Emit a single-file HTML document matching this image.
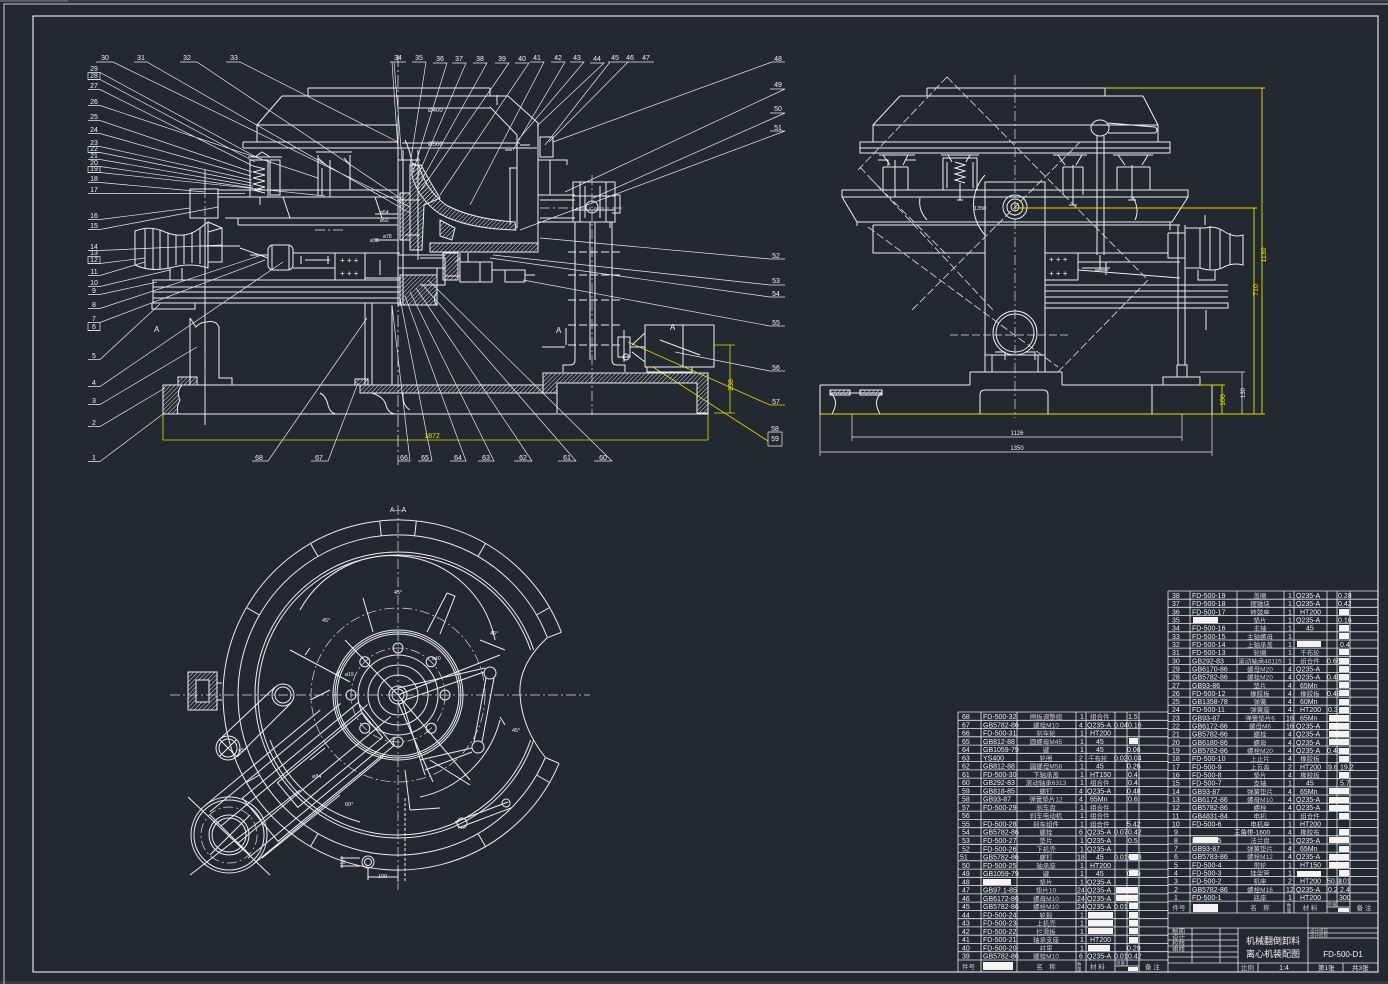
<!DOCTYPE html>
<html><head><meta charset="utf-8">
<style>
html,body{margin:0;padding:0;background:#212830;width:1388px;height:984px;overflow:hidden}
svg{position:absolute;left:0;top:0;display:block}
.t{font-family:"Liberation Sans","Noto Sans CJK SC",sans-serif;fill:#f2f2f2;font-size:7px}
.c{font-family:"Liberation Sans","Noto Sans CJK SC",sans-serif;fill:#cccccc;font-size:6.5px}
.y{font-family:"Liberation Sans",sans-serif;fill:#e8e800;font-size:7px}
</style></head>
<body>
<svg width="1388" height="984" viewBox="0 0 1388 984" xmlns="http://www.w3.org/2000/svg">
<defs>
<pattern id="h" width="3" height="3" patternUnits="userSpaceOnUse" patternTransform="rotate(45)"><line x1="0" y1="0" x2="0" y2="3" stroke="#e0e0e0" stroke-width="1"/></pattern>
</defs>
<!-- sheet frame -->
<rect x="0" y="0" width="1388" height="2" fill="#3b4048"/>
<rect x="0" y="0" width="68" height="2" fill="#5a5f66"/>
<rect x="0" y="981" width="1388" height="3" fill="#353a42"/>
<path d="M4,984 V4 H1388" stroke="#cfd2d6" stroke-width="1" fill="none"/>
<rect x="33" y="16" width="1345" height="956" stroke="#f2f2f2" stroke-width="1.1" fill="none"/>

<!-- ================= FRONT VIEW ================= -->
<g stroke="#eaeaea" stroke-width="0.7" fill="none">
<path d="M88,72.5H100L258,158 M88,79.5H100L255,162 M88,89.5H100L253,166 M88,105.5H100L318,178 M88,120.5H100L252,172 M88,133.5H100L251,176 M88,146.5H100L252,180 M88,152.5H100L252,183 M88,159.5H100L253,186 M88,166.5H100L253,188 M88,172.5H100L325,196 M88,182.5H100L205,192 M88,193.5H245 M88,219.5H100L190,208 M88,229.5H100L218,207 M88,250.5H100L222,245 M88,256.5H100 M88,263.5H100L145,258 M88,275.5H100L145,262 M88,286.5H100L170,270 M88,294.5H100L157,282 M88,308.5H100L262,255 M88,322.5H100L265,260 M88,330.5H100 M88,359.5H100L160,304 M88,386.5H100L283,262 M88,404.5H100L197,347 M88,426.5H100L165,388 M88,461.5H100L163,414"/>
<path d="M88,72.5V79.5H100V72.5 M88,146.5V152.5H100 M88,166.5V172.5H100V166.5 M88,256.5V263.5H100V256.5 M88,322.5V330.5H100V322.5"/>
<path d="M96,62H113L410,207 M134,62H147L410,213 M180,62H197L403,200 M226,62H240L398,142 M390,62H406 M392,62L398,150 M394,62L402,160 M412,62H426L410,165 M433,63H447L413,172 M452,63H466L416,180 M473,63H487L419,185 M495,63H509L421,190 M515,63H529L440,195 M530,62H544L470,205 M551,62H565L513,150 M570,62H584L518,140 M590,63H604L537,126 M608,62H654 M610,62L545,145 M628,62L549,142 M772,62H785 M772,62L553,142 M770,89H785L565,192 M770,113H785L593,198 M770,131H785L520,230"/>
<path d="M785,259H770L540,238 M785,285H770L493,255 M785,297H770L490,258 M785,326H770L523,280 M785,371H770L675,352 M768,432H782V446H768Z"/>
<path d="M252,461H268L367,318 M311,461H328L358,383 M398,461H410L392,305 M418,461H432L400,298 M450,461H466L405,296 M478,461H494L410,292 M514,461H532L416,288 M558,461H576L422,284 M594,461H612L428,280"/>
</g>
<g stroke="#e0e000" stroke-width="0.8" fill="none">
<path d="M785,405H770L628,342 M768,441L653,367"/>
<path d="M163,414V440H708V413 M714,345H735 M714,413H735 M730,345V413"/>
</g>
<g class="y"><text x="432" y="438" text-anchor="middle">1872</text><text transform="translate(733,385) rotate(-90)" text-anchor="middle">238</text></g>

<g class="t" text-anchor="middle">
<text x="94" y="71">29</text><text x="94" y="78">28</text><text x="94" y="88">27</text><text x="94" y="104">26</text><text x="94" y="119">25</text><text x="94" y="132">24</text><text x="94" y="145">23</text><text x="94" y="151">22</text><text x="94" y="158">21</text><text x="94" y="165">20</text><text x="94" y="171">19</text><text x="94" y="181">18</text><text x="94" y="192">17</text><text x="94" y="218">16</text><text x="94" y="228">15</text><text x="94" y="249">14</text><text x="94" y="255">13</text><text x="94" y="262">12</text><text x="94" y="274">11</text><text x="94" y="285">10</text><text x="94" y="293">9</text><text x="94" y="307">8</text><text x="94" y="321">7</text><text x="94" y="329">6</text><text x="94" y="358">5</text><text x="94" y="385">4</text><text x="94" y="403">3</text><text x="94" y="425">2</text><text x="94" y="460">1</text>
<text x="105" y="60">30</text><text x="141" y="60">31</text><text x="187" y="60">32</text><text x="234" y="60">33</text><text x="398" y="60">34</text><text x="419" y="60">35</text><text x="440" y="61">36</text><text x="459" y="61">37</text><text x="480" y="61">38</text><text x="502" y="61">39</text><text x="522" y="61">40</text><text x="537" y="60">41</text><text x="558" y="60">42</text><text x="577" y="60">43</text><text x="597" y="61">44</text><text x="615" y="60">45</text><text x="630" y="60">46</text><text x="646" y="60">47</text>
<text x="778" y="61">48</text><text x="778" y="87">49</text><text x="778" y="111">50</text><text x="778" y="130">51</text><text x="776" y="258">52</text><text x="776" y="283">53</text><text x="776" y="296">54</text><text x="776" y="325">55</text><text x="776" y="370">56</text><text x="776" y="404">57</text><text x="775" y="431">58</text><text x="775" y="441">59</text>
<text x="259" y="460">68</text><text x="319" y="460">67</text><text x="404" y="460">66</text><text x="425" y="460">65</text><text x="458" y="460">64</text><text x="486" y="460">63</text><text x="523" y="460">62</text><text x="567" y="460">61</text><text x="603" y="460">60</text>
</g>

<g stroke="#eeeeee" stroke-width="1" fill="none">
<path d="M412,163 L419,166 Q426,190 446,205 Q472,219 515,222 L516,230 Q468,229 440,214 Q419,200 412,176 Z" fill="url(#h)"/>
<path d="M410,165 H421 Q430,182 440,198 L424,205 L422,250 H410 Z" fill="url(#h)"/>
<path d="M400,275 H437 V292 Q432,300 437,305 H400 Z" fill="url(#h)"/>
<path d="M430,243 H538 V252 H430 Z" fill="url(#h)"/>
<path d="M443,253 H458 V280 H443 Z" fill="url(#h)"/>
<path d="M543,373 H708 V413 H697 V383 H557 V393 H543 Z" fill="url(#h)"/>
<path d="M360,385 H543 V393 H360 Z" fill="url(#h)"/>
<path d="M163,385 H182 Q176,392 180,400 Q176,407 178,414 H163 Z" fill="url(#h)"/>
<path d="M178,377 H197 V385 H178 Z M355,379 H368 V385 H355 Z M400,193 H410 V240 H400 Z" fill="url(#h)"/>
<path d="M440,220 L455,228 L452,240 L440,236 Z" fill="url(#h)"/>
<path d="M308,88 H490 M282,96 H508 M282,96 L257,125 H398 M257,125 V142 M243,142 H398 M243,148 H537 M243,142 V148 M398,108 H490 M402,143 H520 M308,88 V96"/>
<path d="M490,88 V96 M508,96 L538,123 V252 M490,107 L517,135 V228 M509,168 H517 M510,168 V225 M497,95 V105 M520,145 H530 M505,150 H512"/>
<path d="M398,125 V305 M403,150 V305 M418,150 V260 M398,160 H420 M398,200 H420 M398,255 H445 M398,268 H445 M437,268 V305 M398,305 H437 M405,140 Q410,150 412,163"/>
<path d="M420,258 H445 V285 H420 M460,253 V282 H492 V262 H460 M468,253 V262 M480,262 V282 M505,270 H525 V282 H505 Z M445,276 H460 M455,262 L460,258 M492,270 H505 M525,275 H535"/>
<rect x="540" y="137" width="13" height="20"/>
<path d="M538,160 H567 V165 M550,160 V195 M538,195 H575 M538,222 H575 M540,200 H575 M540,218 H575"/>
<rect x="573" y="182" width="42" height="40"/>
<path d="M580,182 V222 M585,186 V218 M600,186 V218 M606,182 V222 M573,196 H615 M573,210 H615 M585,222 H610 V228 M612,195 H620 V213 H612"/>
<circle cx="592" cy="207" r="6"/>
<path d="M575,222 V360 Q575,365 570,365 H563 V372 M612,222 V360 Q612,365 617,365 H625 V372 M590,222 V360 M595,222 V360"/>
<path d="M568,252 H620 M568,275 H620 M568,300 H620 M568,325 H620 M568,345 H620" stroke-dasharray="8 3"/>
<path d="M542,347 H565 M566,328 V345"/>
<rect x="645" y="325" width="69" height="42"/>
<path d="M683,325 V367 M647,367 V372 H692 V367 M618,337 H630 V357 H618 Z M624,330 V362 M632,345 L645,333 M632,352 L645,362 M630,347 H645 M660,340 L700,355"/>
<circle cx="626" cy="357" r="3"/>
<path d="M163,385 H543 M163,414 H708 V373 M163,385 V414 M543,373 V385 M557,383 V413 M697,383 V413"/>
<path d="M320,393 Q326,396 328,405 Q330,413 336,414 M372,393 Q384,397 386,405 Q388,413 395,414 M403,393 Q402,405 410,410"/>
<path d="M190,318 V385 M190,318 L196,327 Q200,322 207,322 Q216,320 219,327 V378 H232 V385"/>
<rect x="153" y="280" width="247" height="23"/>
<path d="M153,287 H400 M153,292 H400 M153,298 H400 M152,303 V309 H195 V303 M365,303 V385 M372,303 V385 M392,305 V385"/>
<path d="M135,231 Q150,225 165,232 Q185,240 200,228 L208,222 V268 Q190,262 170,268 Q150,272 135,265 Z"/>
<path d="M145,229 V268 M153,228 V270 M160,230 V270 M168,233 V268 M176,235 V265 M184,235 V264 M192,232 V263 M200,228 V264 M170,268 V280 M182,268 V280 M208,222 L222,228 V262 H208 M200,246 H240 M208,232 L222,228"/>
<rect x="268" y="245" width="25" height="25" rx="5"/>
<path d="M272,245 V270 M289,245 V270 M293,253 H335 M293,268 H335 M305,260 H330 M301,256 V264 M328,256 V264 M365,253 H400 M365,278 H400 M380,260 V275 M250,255 H268 M240,248 L268,258"/>
<rect x="335" y="253" width="30" height="27"/>
<rect x="190" y="189" width="28" height="29"/>
<path d="M218,190 H398 M218,197 H398 M225,218 H398 M238,225 H398 M238,218 V225 M283,197 L290,218 M375,197 L382,218 M205,170 V190 M205,218 V425"/>
<rect x="250" y="160" width="18" height="37"/>
<rect x="270" y="160" width="10" height="35"/>
<polyline points="253,166 265,169 253,172 265,175 253,178 265,181 253,184 265,187 253,190 265,193"/>
<path d="M248,157 H282 M255,157 L262,152 L270,157 M260,197 V205 M318,155 V195 M350,155 V190 M316,152 H352 M318,158 L326,165 M344,158 L350,165 M330,160 V197 M328,197 H334 M322,168 V195"/>
<path d="M375,214 H398 M375,240 H398 M405,235 H420"/>
</g>
<path d="M398,55 V465" stroke="#e0e0e0" stroke-width="0.8" stroke-dasharray="12 3 2 3"/>
<path d="M592,175 V415 M540,208 H625 M205,170 V425 M315,230 H345" stroke="#e0e0e0" stroke-width="0.7" stroke-dasharray="10 3 2 3"/>
<g class="t" font-size="6">
<text x="428" y="112" font-size="6">Ø400</text><text x="428" y="146" font-size="6">Ø500</text>
<text x="380" y="214" font-size="5">ø54</text><text x="380" y="222" font-size="5">ø92</text><text x="370" y="242" font-size="5">ø38</text><text x="383" y="238" font-size="5">ø78</text>
<text x="340" y="263" font-size="8">+ + +</text><text x="340" y="276" font-size="8">+ + +</text>
<text x="556" y="333" font-size="8">A</text><text x="670" y="330" font-size="8">A</text><text x="154" y="332" font-size="8">A</text>
</g>

<!-- ================= SIDE VIEW ================= -->
<g stroke="#eeeeee" stroke-width="1" fill="none">
<path d="M927,88 H1105 M927,88 V96 M1105,88 V96 M900,96 H1143 M900,96 L873,125 M1143,96 L1158,125"/>
<rect x="873" y="125" width="285" height="17"/>
<rect x="860" y="142" width="310" height="11"/>
<path d="M860,148 H1170"/>
<path d="M879,155 H915 M883,155 L890,165 M908,155 L903,165 M883,167 H908 M883,167 V190 M908,167 V190 M895,160 V197 M878,160 H888 V166 M906,160 H916"/>
<rect x="943" y="158" width="34" height="32"/>
<path d="M941,155 H979 M948,155 L952,162 M970,155 L966,162 M947,162 V188 M973,162 V188"/>
<polyline points="955,162 965,165 955,168 965,171 955,174 965,177 955,180 965,183"/>
<path d="M960,183 V200 M957,200 H963"/>
<path d="M1053,155 H1087 M1058,155 L1065,165 M1082,155 L1076,165 M1063,167 H1083 M1063,167 V195 M1083,167 V195 M1073,165 V205 M1069,205 H1077"/>
<path d="M1113,155 H1153 M1118,155 L1125,165 M1148,155 L1142,165 M1117,167 V190 M1150,167 V190 M1117,167 H1150 M1132,165 V200 M1128,200 H1136"/>
<rect x="842" y="190" width="346" height="7"/>
<path d="M842,197 L857,222 H1172 L1188,197 M857,222 V226 M920,198 Q918,210 927,220 M1133,197 Q1140,210 1135,220 M1170,222 V230"/>
<path d="M873,225 H1180 M873,225 V253 H985 M1045,253 H1168"/>
<rect x="985" y="182" width="60" height="190"/>
<path d="M985,355 H1045 M992,355 V372 M1038,355 V372 M995,352 H1005 V360 M1025,352 H1035 V360"/>
<circle cx="1015" cy="207" r="12"/><circle cx="1015" cy="207" r="8"/><circle cx="1015" cy="207" r="4"/>
<path d="M985,175 A45,45 0 0 0 985,235"/>
<circle cx="1015" cy="333" r="22"/><circle cx="1015" cy="333" r="19"/>
<path d="M970,372 H1062 M970,372 V385 M1062,372 V385 M820,385 H970 M1062,385 H1212 M820,385 V414 M1212,385 V414 M820,414 H1212 M1152,385 V414"/>
<path d="M830,393 Q840,400 832,414 M882,393 Q872,400 880,414 M830,393 H882 M980,414 V395 Q980,390 985,390 H1043 Q1048,390 1048,395 V414"/>
<path d="M830,390 H850 V395 H830 Z M860,390 H882 V395 H860 Z" fill="url(#h)"/>
<rect x="1163" y="377" width="37" height="8"/>
<path d="M1177,365 H1187 V377 M1177,365 V377 M1178,225 V365 M1185,225 V365"/>
<path d="M1168,233 H1185 M1168,233 V258 H1185 M1185,228 H1205 Q1215,225 1225,232 Q1235,238 1243,235 V265 Q1232,262 1222,268 Q1212,272 1200,268 H1185 Z M1200,228 V268 M1210,226 V270 M1220,230 V268 M1230,233 V265 M1198,270 V280 H1215 V270 M1205,215 V225"/>
<path d="M1045,285 H1228 M1045,291 H1228 M1045,297 H1228 M1045,303 H1228 V308 H1045 M1206,310 V330"/>
<rect x="1045" y="253" width="33" height="27"/>
<path d="M1078,262 H1180 M1078,270 L1180,278 M1082,268 H1110 M1106,262 V275"/>
<ellipse cx="1100" cy="128" rx="9" ry="8"/>
<path d="M1108,123 L1155,127 Q1159,130 1155,133 L1108,133 M1097,136 V255 M1104,136 V255 M1100,255 V270 M1095,270 H1108"/>
</g>
<g stroke="#e0e0e0" stroke-width="0.8" fill="none" stroke-dasharray="8 3">
<path d="M947,77 L1148,280 M947,77 L858,170 M1148,280 L1058,372 M868,227 L1058,367 M860,167 L993,310 M912,310 L1080,142 M950,335 H1070 M870,178 L950,258"/>
</g>
<path d="M1015,75 V418" stroke="#e0e0e0" stroke-width="0.7" stroke-dasharray="10 3 2 3" fill="none"/>
<g stroke="#e0e000" stroke-width="0.9" fill="none">
<path d="M1105,88 H1265 M1262,88 V414 M1015,208 H1257 M1254,208 V414 M820,414 H1265 M1200,385 H1225 M1222,385 V414"/>
</g>
<g stroke="#eaeaea" stroke-width="0.7" fill="none">
<path d="M1200,372 H1245 M1242,372 V414 M852,414 V441 M1182,414 V441 M852,437 H1182 M820,414 V456 M1212,414 V456 M820,452 H1212"/>
</g>
<g class="t">
<text x="1017" y="435" text-anchor="middle" font-size="6">1126</text>
<text x="1017" y="450" text-anchor="middle" font-size="6">1350</text>
<text x="974" y="210" font-size="5.5">1350</text>
<text transform="translate(1245,393) rotate(-90)" text-anchor="middle" font-size="6">130</text>
<text x="1049" y="262" font-size="8">+ + +</text><text x="1049" y="276" font-size="8">+ + +</text>
</g>
<g class="y" font-size="6">
<text transform="translate(1266,255) rotate(-90)" text-anchor="middle">1130</text>
<text transform="translate(1258,290) rotate(-90)" text-anchor="middle">710</text>
<text transform="translate(1225,400) rotate(-90)" text-anchor="middle">100</text>
</g>

<!-- ================= SECTION A-A ================= -->
<g stroke="#eeeeee" stroke-width="1" fill="none">
<path d="M561.4,632.3 A175,175 0 1 0 559.1,763.4"/>
<path d="M547.4,637.7 A160,160 0 1 0 545.3,757.5"/>
<path d="M561.4,632.3 L547.4,637.7 M559.1,763.4 L545.3,757.5"/>
<path d="M547,638 Q518,665 520,695 Q522,728 545,757"/>
<path d="M533.7,650 A143,143 0 1 0 533.7,740 M530.6,650 A140,140 0 1 0 530.6,740"/>
<path d="M414.7,535.9 L416.3,521 M381.3,535.9 L379.7,521 M478,556.4 L485.5,543.5 M318,556.4 L310.5,543.5 M259.4,615 L246.4,607.5 M536.6,615 L549.6,607.5 M259.4,775 L246.4,782.5 M318,833.6 L310.5,846.5 M478,833.6 L485.5,846.5 M536.6,775 L549.6,782.5"/>
<path d="M300,610 A105,105 0 0 1 495,640 M500,720 A105,105 0 0 1 420,797"/>
<path d="M270,740 A133,133 0 0 0 360,822"/>
<circle cx="398" cy="695" r="65"/><circle cx="398" cy="695" r="63"/><circle cx="398" cy="695" r="61"/>
<circle cx="398" cy="695" r="40"/><circle cx="398" cy="695" r="30"/><circle cx="398" cy="695" r="20"/>
<circle cx="398" cy="695" r="9"/><circle cx="398" cy="695" r="6"/>
<circle cx="445" cy="695" r="5"/><circle cx="431.2" cy="661.8" r="5"/><circle cx="398" cy="648" r="5"/><circle cx="364.8" cy="661.8" r="5"/><circle cx="351" cy="695" r="5"/><circle cx="364.8" cy="728.2" r="5"/><circle cx="398" cy="742" r="5"/><circle cx="431.2" cy="728.2" r="5"/>
<path d="M363,598 L373,632 M447,593 L427,632 M447,593 L455,596 L440,634"/>
<path d="M398,702 L433,782 M402,700 L425,775 M398,695 L470,780 M398,695 L500,655 M398,695 L345,640"/>
<circle cx="229" cy="835" r="38"/><circle cx="229" cy="835" r="35"/><circle cx="229" cy="835" r="20"/><circle cx="229" cy="835" r="17"/>
<path d="M190,875 L300,790 M188,797 L270,875 M210,855 L250,815 M210,815 L250,855"/>
<path d="M204.8,805.7 L320.3,710 M209.9,811.9 L340.8,703.4 M221.3,825.8 L367.6,704.6 M236.7,844.2 L390.7,716.6 M248.1,858.1 L394.4,736.9 M253.2,864.3 L384.1,755.8 M262,858 L340,795"/>
<rect x="-75" y="-28" width="150" height="56" transform="translate(318,772) rotate(-39.6)"/>
<rect x="-55" y="-16" width="110" height="32" transform="translate(330,760) rotate(-39.6)"/>
<circle cx="283" cy="695" r="11"/><circle cx="283" cy="695" r="8"/>
<circle cx="228" cy="748" r="12"/><circle cx="228" cy="748" r="9"/>
<path d="M275,687 L219,740 M291,703 L237,757 M220,740 L236,756 M220,756 L236,740"/>
<rect x="188" y="672" width="29" height="38" fill="url(#h)"/>
<rect x="196" y="680" width="13" height="22" fill="#212830"/>
<path d="M217,683 H222 M217,700 H222"/>
<circle cx="490" cy="673" r="6"/><circle cx="478" cy="747" r="6"/>
<path d="M494,678 L482,742 M486,678 L474,742 M398,688 L485,668 M405,700 L484,672 M420,760 L472,748 M425,770 L472,752"/>
<path d="M455,822 L508,802 M458,828 L511,808"/>
<circle cx="462" cy="823" r="5"/><circle cx="506" cy="803" r="4"/>
<circle cx="368" cy="862" r="6"/><circle cx="368" cy="862" r="3.5"/>
<path d="M368,868 V880 M398,868 V882 M368,877 H398 M340,858 H360 M340,866 H360 M342,856 V868"/>
<path d="M290,650 L350,682 M305,655 L310,648 M335,678 L340,670 M430,760 L470,785 M405,770 L410,810 M410,810 L440,808 M500,717 L505,725 M505,650 L480,640 M310,760 L325,748 M310,700 L330,690"/>
<path d="M405,798 V882" stroke-dasharray="3 2"/>
</g>
<g stroke="#e0e0e0" stroke-width="0.7" fill="none" stroke-dasharray="10 3 2 3">
<path d="M170,695 H590 M398,505 V890"/>
<circle cx="398" cy="695" r="87"/>
<circle cx="398" cy="695" r="47"/>
<circle cx="229" cy="835" r="28"/>
</g>
<g class="t" font-size="6">
<text x="398" y="512" text-anchor="middle" font-size="7">A—A</text>
<text x="398" y="594" text-anchor="middle" font-size="5.5">45°</text>
<text x="322" y="622" font-size="5.5">45°</text>
<text x="490" y="635" font-size="5.5">45°</text>
<text x="512" y="732" font-size="5.5">45°</text>
<text x="238" y="752" font-size="5.5">45°</text>
<text x="345" y="806" font-size="5.5">60°</text>
<text x="312" y="778" font-size="5.5">ø84</text>
<text x="345" y="676" font-size="5">ø19</text>
<text x="432" y="660" font-size="5">ø40</text>
<text x="378" y="878" font-size="5.5">100</text>
<text x="340" y="864" font-size="5">20</text>
</g>

<!-- ================= TABLES ================= -->
<g stroke="#eaeaea" stroke-width="0.8" fill="none">
<path d="M958,712 H1168 M958,720.3 H1168 M958,728.5 H1168 M958,736.8 H1168 M958,745.1 H1168 M958,753.3 H1168 M958,761.6 H1168 M958,769.9 H1168 M958,778.1 H1168 M958,786.4 H1168 M958,794.7 H1168 M958,802.9 H1168 M958,811.2 H1168 M958,819.5 H1168 M958,827.7 H1168 M958,836 H1168 M958,844.3 H1168 M958,852.5 H1168 M958,860.8 H1168 M958,869.1 H1168 M958,877.3 H1168 M958,885.6 H1168 M958,893.9 H1168 M958,902.1 H1168 M958,910.4 H1168 M958,918.7 H1168 M958,926.9 H1168 M958,935.2 H1168 M958,943.5 H1168 M958,951.7 H1168 M958,960 H1168 M1115,966 H1139"/>
<path d="M958,712 V972 M981,712 V972 M1017,712 V972 M1076,712 V972 M1086,712 V972 M1115,712 V972 M1127,712 V966 M1139,712 V972 M1168,591 V972"/>
<path d="M1168,591 H1378 M1168,599.2 H1378 M1168,607.3 H1378 M1168,615.5 H1378 M1168,623.6 H1378 M1168,631.8 H1378 M1168,640 H1378 M1168,648.1 H1378 M1168,656.3 H1378 M1168,664.4 H1378 M1168,672.6 H1378 M1168,680.8 H1378 M1168,688.9 H1378 M1168,697.1 H1378 M1168,705.2 H1378 M1168,713.4 H1378 M1168,721.6 H1378 M1168,729.7 H1378 M1168,737.9 H1378 M1168,746 H1378 M1168,754.2 H1378 M1168,762.4 H1378 M1168,770.5 H1378 M1168,778.7 H1378 M1168,786.8 H1378 M1168,795 H1378 M1168,803.2 H1378 M1168,811.3 H1378 M1168,819.5 H1378 M1168,827.6 H1378 M1168,835.8 H1378 M1168,844 H1378 M1168,852.1 H1378 M1168,860.3 H1378 M1168,868.4 H1378 M1168,876.6 H1378 M1168,884.8 H1378 M1168,892.9 H1378 M1168,901.1 H1378 M1168,913 H1378 M1327,907 H1350"/>
<path d="M1190,591 V913 M1237,591 V913 M1284,591 V913 M1294,591 V913 M1327,591 V913 M1337,591 V907 M1350,591 V913"/>
<path d="M1168,928 H1378 M1192,928 V963 M1220,928 V963 M1238,928 V972 M1308,913 V972 M1168,934 H1238 M1168,940 H1238 M1168,946 H1238 M1168,952 H1238 M1168,957 H1238 M1168,963 H1378 M1258,963 V972 M1343,963 V972 M1308,933 H1378 M1308,938 H1378"/>
</g>
<g fill="#f4f4f4">
<rect x="1129" y="738" width="9" height="6"/><rect x="983" y="879" width="28" height="6"/><rect x="1116" y="887" width="22" height="6"/><rect x="1116" y="895" width="22" height="6"/><rect x="1129" y="903" width="9" height="6"/>
<rect x="1088" y="912" width="25" height="6"/><rect x="1129" y="912" width="9" height="6"/><rect x="1088" y="920" width="25" height="6"/><rect x="1129" y="920" width="9" height="6"/><rect x="1088" y="928" width="25" height="6"/><rect x="1129" y="928" width="9" height="6"/><rect x="1129" y="937" width="9" height="6"/><rect x="1088" y="945" width="22" height="6"/><rect x="1129" y="854" width="9" height="6"/><rect x="1129" y="870" width="9" height="6"/>
<rect x="983" y="962" width="30" height="8"/><rect x="1128" y="967" width="10" height="4"/>
<rect x="1193" y="617" width="25" height="6"/><rect x="1193" y="837" width="25" height="6"/><rect x="1297" y="641" width="24" height="6"/><rect x="1297" y="871" width="24" height="6"/><rect x="1193" y="904" width="25" height="8"/><rect x="1338" y="908" width="11" height="4"/>
<rect x="1339" y="609" width="10" height="6"/><rect x="1339" y="625" width="10" height="6"/><rect x="1339" y="633" width="10" height="6"/><rect x="1339" y="649" width="10" height="6"/><rect x="1339" y="658" width="10" height="6"/><rect x="1339" y="666" width="10" height="6"/><rect x="1339" y="674" width="10" height="6"/><rect x="1339" y="682" width="10" height="6"/><rect x="1339" y="690" width="10" height="6"/><rect x="1339" y="699" width="10" height="6"/><rect x="1339" y="707" width="10" height="6"/><rect x="1329" y="715" width="20" height="6"/><rect x="1329" y="723" width="20" height="6"/><rect x="1329" y="731" width="20" height="6"/><rect x="1329" y="739" width="20" height="6"/><rect x="1339" y="748" width="10" height="6"/><rect x="1339" y="756" width="10" height="6"/><rect x="1339" y="772" width="10" height="6"/><rect x="1329" y="788" width="20" height="6"/><rect x="1329" y="797" width="20" height="6"/><rect x="1329" y="805" width="20" height="6"/><rect x="1339" y="813" width="10" height="6"/><rect x="1339" y="829" width="10" height="6"/><rect x="1329" y="837" width="20" height="6"/><rect x="1339" y="846" width="10" height="6"/><rect x="1329" y="854" width="20" height="6"/><rect x="1329" y="862" width="20" height="6"/><rect x="1339" y="870" width="10" height="6"/>
</g>
<g class="t">
<text y="719"><tspan x="962">68</tspan><tspan x="983">FD-500-32</tspan><tspan x="1080">1</tspan><tspan x="1090" class="c">组合件</tspan><tspan x="1128">1.5</tspan></text>
<text y="727.3"><tspan x="962">67</tspan><tspan x="983">GB5782-86</tspan><tspan x="1079">4</tspan><tspan x="1087">Q235-A</tspan><tspan x="1114">0.04</tspan><tspan x="1128">0.16</tspan></text>
<text y="735.5"><tspan x="962">66</tspan><tspan x="983">FD-500-31</tspan><tspan x="1080">1</tspan><tspan x="1090">HT200</tspan></text>
<text y="743.8"><tspan x="962">65</tspan><tspan x="983">GB812-88</tspan><tspan x="1080">1</tspan><tspan x="1096">45</tspan></text>
<text y="752.1"><tspan x="962">64</tspan><tspan x="983">GB1059-79</tspan><tspan x="1080">1</tspan><tspan x="1096">45</tspan><tspan x="1127">0.06</tspan></text>
<text y="760.3"><tspan x="962">63</tspan><tspan x="983">YS400</tspan><tspan x="1079">2</tspan><tspan x="1088" class="c">千布轮</tspan><tspan x="1114">0.02</tspan><tspan x="1128">0.04</tspan></text>
<text y="768.6"><tspan x="962">62</tspan><tspan x="983">GB812-88</tspan><tspan x="1080">1</tspan><tspan x="1096">45</tspan><tspan x="1127">0.26</tspan></text>
<text y="776.9"><tspan x="962">61</tspan><tspan x="983">FD-500-30</tspan><tspan x="1080">1</tspan><tspan x="1090">HT150</tspan><tspan x="1128">0.4</tspan></text>
<text y="785.1"><tspan x="962">60</tspan><tspan x="983">GB292-83</tspan><tspan x="1080">1</tspan><tspan x="1090" class="c">组合件</tspan><tspan x="1128">0.4</tspan></text>
<text y="793.4"><tspan x="962">59</tspan><tspan x="983">GB818-85</tspan><tspan x="1079">4</tspan><tspan x="1087">Q235-A</tspan><tspan x="1127">0.48</tspan></text>
<text y="801.7"><tspan x="962">58</tspan><tspan x="983">GB93-87</tspan><tspan x="1079">4</tspan><tspan x="1090">65Mn</tspan><tspan x="1128">0.6</tspan></text>
<text y="809.9"><tspan x="962">57</tspan><tspan x="983">FD-500-29</tspan><tspan x="1080">1</tspan><tspan x="1090" class="c">组合件</tspan></text>
<text y="818.2"><tspan x="962">56</tspan><tspan x="1080">1</tspan><tspan x="1090" class="c">组合件</tspan></text>
<text y="826.5"><tspan x="962">55</tspan><tspan x="983">FD-500-28</tspan><tspan x="1080">1</tspan><tspan x="1090" class="c">组合件</tspan><tspan x="1127">5.42</tspan></text>
<text y="834.7"><tspan x="962">54</tspan><tspan x="983">GB5782-86</tspan><tspan x="1079">6</tspan><tspan x="1087">Q235-A</tspan><tspan x="1114">0.07</tspan><tspan x="1128">0.42</tspan></text>
<text y="843"><tspan x="962">53</tspan><tspan x="983">FD-500-27</tspan><tspan x="1080">1</tspan><tspan x="1087">Q235-A</tspan><tspan x="1128">0.5</tspan></text>
<text y="851.3"><tspan x="962">52</tspan><tspan x="983">FD-500-26</tspan><tspan x="1080">1</tspan><tspan x="1087">Q235-A</tspan></text>
<text y="859.5"><tspan x="960">51</tspan><tspan x="983">GB5782-86</tspan><tspan x="1077">18</tspan><tspan x="1096">45</tspan><tspan x="1114">0.01</tspan><tspan x="1128">0.18</tspan></text>
<text y="867.8"><tspan x="962">50</tspan><tspan x="983">FD-500-25</tspan><tspan x="1080">1</tspan><tspan x="1090">HT200</tspan></text>
<text y="876.1"><tspan x="962">49</tspan><tspan x="983">GB1059-79</tspan><tspan x="1080">1</tspan><tspan x="1096">45</tspan><tspan x="1127">0.19</tspan></text>
<text y="884.3"><tspan x="962">48</tspan><tspan x="1080">1</tspan><tspan x="1087">Q235-A</tspan></text>
<text y="892.6"><tspan x="962">47</tspan><tspan x="983">GB97.1-85</tspan><tspan x="1077">24</tspan><tspan x="1087">Q235-A</tspan></text>
<text y="900.9"><tspan x="962">46</tspan><tspan x="983">GB6172-86</tspan><tspan x="1077">24</tspan><tspan x="1087">Q235-A</tspan></text>
<text y="909.1"><tspan x="962">45</tspan><tspan x="983">GB5782-86</tspan><tspan x="1077">24</tspan><tspan x="1087">Q235-A</tspan><tspan x="1114">0.01</tspan></text>
<text y="917.4"><tspan x="962">44</tspan><tspan x="983">FD-500-24</tspan><tspan x="1080">1</tspan></text>
<text y="925.7"><tspan x="962">43</tspan><tspan x="983">FD-500-23</tspan><tspan x="1080">1</tspan></text>
<text y="933.9"><tspan x="962">42</tspan><tspan x="983">FD-500-22</tspan><tspan x="1080">1</tspan></text>
<text y="942.2"><tspan x="962">41</tspan><tspan x="983">FD-500-21</tspan><tspan x="1080">1</tspan><tspan x="1090">HT200</tspan></text>
<text y="950.5"><tspan x="962">40</tspan><tspan x="983">FD-500-20</tspan><tspan x="1080">1</tspan><tspan x="1127">0.29</tspan></text>
<text y="958.7"><tspan x="962">39</tspan><tspan x="983">GB5782-86</tspan><tspan x="1079">6</tspan><tspan x="1087">Q235-A</tspan><tspan x="1114">0.01</tspan><tspan x="1128">0.42</tspan></text>
</g>
<g class="c">
<text x="1046" y="719" text-anchor="middle">闸板调整组</text><text x="1046" y="727.3" text-anchor="middle">螺栓M10</text><text x="1046" y="735.5" text-anchor="middle">刹车轮</text><text x="1046" y="743.8" text-anchor="middle">圆螺母M45</text><text x="1046" y="752.1" text-anchor="middle">键</text><text x="1046" y="760.3" text-anchor="middle">轮圈</text><text x="1046" y="768.6" text-anchor="middle">圆螺母M58</text><text x="1046" y="776.9" text-anchor="middle">下轴承盖</text><text x="1046" y="785.1" text-anchor="middle">滚动轴承6313</text><text x="1046" y="793.4" text-anchor="middle">螺钉</text><text x="1046" y="801.7" text-anchor="middle">弹簧垫片12</text><text x="1046" y="809.9" text-anchor="middle">刹车盘</text><text x="1046" y="818.2" text-anchor="middle">刹车电动机</text><text x="1046" y="826.5" text-anchor="middle">刹车组件</text><text x="1046" y="834.7" text-anchor="middle">螺栓</text><text x="1046" y="843" text-anchor="middle">垫片</text><text x="1046" y="851.3" text-anchor="middle">下机壳</text><text x="1046" y="859.5" text-anchor="middle">螺钉</text><text x="1046" y="867.8" text-anchor="middle">轴承座</text><text x="1046" y="876.1" text-anchor="middle">键</text><text x="1046" y="884.3" text-anchor="middle">垫片</text><text x="1046" y="892.6" text-anchor="middle">垫片10</text><text x="1046" y="900.9" text-anchor="middle">螺母M10</text><text x="1046" y="909.1" text-anchor="middle">螺栓M10</text><text x="1046" y="917.4" text-anchor="middle">轮毂</text><text x="1046" y="925.7" text-anchor="middle">上机壳</text><text x="1046" y="933.9" text-anchor="middle">栏滑板</text><text x="1046" y="942.2" text-anchor="middle">轴承支座</text><text x="1046" y="950.5" text-anchor="middle">衬里</text><text x="1046" y="958.7" text-anchor="middle">螺栓M10</text>
<text x="962" y="969">件号</text><text x="1046" y="969" text-anchor="middle">名　称</text><text x="1077" y="966" font-size="4.5">数</text><text x="1077" y="971" font-size="4.5">量</text><text x="1090" y="969">材 料</text><text x="1116" y="965" font-size="4.5">单重</text><text x="1145" y="969">备 注</text>
</g>
<g class="t">
<text y="598"><tspan x="1172">38</tspan><tspan x="1192">FD-500-19</tspan><tspan x="1288">1</tspan><tspan x="1296">Q235-A</tspan><tspan x="1338">0.28</tspan></text>
<text y="606.2"><tspan x="1172">37</tspan><tspan x="1192">FD-500-18</tspan><tspan x="1288">1</tspan><tspan x="1296">Q235-A</tspan><tspan x="1338">0.42</tspan></text>
<text y="614.3"><tspan x="1172">36</tspan><tspan x="1192">FD-500-17</tspan><tspan x="1288">1</tspan><tspan x="1300">HT200</tspan></text>
<text y="622.5"><tspan x="1172">35</tspan><tspan x="1288">1</tspan><tspan x="1296">Q235-A</tspan><tspan x="1338">0.16</tspan></text>
<text y="630.6"><tspan x="1172">34</tspan><tspan x="1192">FD-500-16</tspan><tspan x="1288">1</tspan><tspan x="1306">45</tspan></text>
<text y="638.8"><tspan x="1172">33</tspan><tspan x="1192">FD-500-15</tspan><tspan x="1288">1</tspan></text>
<text y="647"><tspan x="1172">32</tspan><tspan x="1192">FD-500-14</tspan><tspan x="1288">1</tspan><tspan x="1300">HT150</tspan><tspan x="1340">0.4</tspan></text>
<text y="655.1"><tspan x="1172">31</tspan><tspan x="1192">FD-500-13</tspan><tspan x="1288">1</tspan></text>
<text y="663.3"><tspan x="1172">30</tspan><tspan x="1192">GB292-83</tspan><tspan x="1288">1</tspan><tspan x="1327">0.65</tspan></text>
<text y="671.4"><tspan x="1172">29</tspan><tspan x="1192">GB6170-86</tspan><tspan x="1288">4</tspan><tspan x="1296">Q235-A</tspan></text>
<text y="679.6"><tspan x="1172">28</tspan><tspan x="1192">GB5782-86</tspan><tspan x="1288">4</tspan><tspan x="1296">Q235-A</tspan><tspan x="1327">0.48</tspan></text>
<text y="687.8"><tspan x="1172">27</tspan><tspan x="1192">GB93-86</tspan><tspan x="1288">4</tspan><tspan x="1300">65Mn</tspan></text>
<text y="695.9"><tspan x="1172">26</tspan><tspan x="1192">FD-500-12</tspan><tspan x="1288">4</tspan><tspan x="1327">0.48</tspan></text>
<text y="704.1"><tspan x="1172">25</tspan><tspan x="1192">GB1358-78</tspan><tspan x="1288">4</tspan><tspan x="1300">60Mn</tspan></text>
<text y="712.2"><tspan x="1172">24</tspan><tspan x="1192">FD-500-11</tspan><tspan x="1288">4</tspan><tspan x="1300">HT200</tspan><tspan x="1328">0.3</tspan></text>
<text y="720.4"><tspan x="1172">23</tspan><tspan x="1192">GB93-87</tspan><tspan x="1286">16</tspan><tspan x="1300">65Mn</tspan></text>
<text y="728.6"><tspan x="1172">22</tspan><tspan x="1192">GB6172-86</tspan><tspan x="1286">16</tspan><tspan x="1296">Q235-A</tspan></text>
<text y="736.7"><tspan x="1172">21</tspan><tspan x="1192">GB5782-86</tspan><tspan x="1288">4</tspan><tspan x="1296">Q235-A</tspan></text>
<text y="744.9"><tspan x="1172">20</tspan><tspan x="1192">GB6180-86</tspan><tspan x="1288">4</tspan><tspan x="1296">Q235-A</tspan></text>
<text y="753"><tspan x="1172">19</tspan><tspan x="1192">GB5782-86</tspan><tspan x="1288">4</tspan><tspan x="1296">Q235-A</tspan><tspan x="1327">0.48</tspan></text>
<text y="761.2"><tspan x="1172">18</tspan><tspan x="1192">FD-500-10</tspan><tspan x="1288">4</tspan></text>
<text y="769.4"><tspan x="1172">17</tspan><tspan x="1192">FD-500-9</tspan><tspan x="1288">2</tspan><tspan x="1300">HT200</tspan><tspan x="1328">9.6</tspan><tspan x="1340">19.2</tspan></text>
<text y="777.5"><tspan x="1172">16</tspan><tspan x="1192">FD-500-8</tspan><tspan x="1288">4</tspan></text>
<text y="785.7"><tspan x="1172">15</tspan><tspan x="1192">FD-500-7</tspan><tspan x="1288">1</tspan><tspan x="1306">45</tspan><tspan x="1340">5.7</tspan></text>
<text y="793.8"><tspan x="1172">14</tspan><tspan x="1192">GB93-87</tspan><tspan x="1288">4</tspan><tspan x="1300">65Mn</tspan></text>
<text y="802"><tspan x="1172">13</tspan><tspan x="1192">GB6172-86</tspan><tspan x="1288">4</tspan><tspan x="1296">Q235-A</tspan></text>
<text y="810.2"><tspan x="1172">12</tspan><tspan x="1192">GB5782-86</tspan><tspan x="1288">4</tspan><tspan x="1296">Q235-A</tspan></text>
<text y="818.3"><tspan x="1172">11</tspan><tspan x="1192">GB4831-84</tspan><tspan x="1288">1</tspan><tspan x="1340">71</tspan></text>
<text y="826.5"><tspan x="1172">10</tspan><tspan x="1192">FD-500-6</tspan><tspan x="1288">1</tspan><tspan x="1300">HT200</tspan></text>
<text y="834.6"><tspan x="1174">9</tspan><tspan x="1288">4</tspan></text>
<text y="842.8"><tspan x="1174">8</tspan><tspan x="1192">FD-500-5</tspan><tspan x="1288">1</tspan><tspan x="1296">Q235-A</tspan></text>
<text y="851"><tspan x="1174">7</tspan><tspan x="1192">GB93-87</tspan><tspan x="1288">4</tspan><tspan x="1300">65Mn</tspan></text>
<text y="859.1"><tspan x="1174">6</tspan><tspan x="1192">GB5783-86</tspan><tspan x="1288">4</tspan><tspan x="1296">Q235-A</tspan></text>
<text y="867.3"><tspan x="1174">5</tspan><tspan x="1192">FD-500-4</tspan><tspan x="1288">1</tspan><tspan x="1300">HT150</tspan></text>
<text y="875.4"><tspan x="1174">4</tspan><tspan x="1192">FD-500-3</tspan><tspan x="1288">1</tspan><tspan x="1340">1.8</tspan></text>
<text y="883.6"><tspan x="1174">3</tspan><tspan x="1192">FD-500-2</tspan><tspan x="1288">2</tspan><tspan x="1300">HT200</tspan><tspan x="1327">50.9</tspan><tspan x="1339">101</tspan></text>
<text y="891.8"><tspan x="1174">2</tspan><tspan x="1192">GB5782-86</tspan><tspan x="1286">12</tspan><tspan x="1296">Q235-A</tspan><tspan x="1328">0.2</tspan><tspan x="1340">2.4</tspan></text>
<text y="899.9"><tspan x="1174">1</tspan><tspan x="1192">FD-500-1</tspan><tspan x="1288">1</tspan><tspan x="1300">HT200</tspan><tspan x="1339">300</tspan></text>
</g>
<g class="c" text-anchor="middle">
<text x="1260" y="598">盖圈</text><text x="1260" y="606.2">摆锤块</text><text x="1260" y="614.3">转鼓座</text><text x="1260" y="622.5">垫片</text><text x="1260" y="630.6">主轴</text><text x="1260" y="638.8">主轴螺母</text><text x="1260" y="647">上轴承盖</text><text x="1260" y="655.1">轮圈</text><text x="1260" y="663.3">滚动轴承46115</text><text x="1260" y="671.4">螺母M20</text><text x="1260" y="679.6">螺栓M20</text><text x="1260" y="687.8">垫片</text><text x="1260" y="695.9">橡胶板</text><text x="1260" y="704.1">弹簧</text><text x="1260" y="712.2">弹簧座</text><text x="1260" y="720.4">弹簧垫片6</text><text x="1260" y="728.6">螺母M6</text><text x="1260" y="736.7">螺栓</text><text x="1260" y="744.9">螺母</text><text x="1260" y="753">螺栓M20</text><text x="1260" y="761.2">上止片</text><text x="1260" y="769.4">上瓦盖</text><text x="1260" y="777.5">垫片</text><text x="1260" y="785.7">支轴</text><text x="1260" y="793.8">弹簧垫片</text><text x="1260" y="802">螺母M10</text><text x="1260" y="810.2">螺栓</text><text x="1260" y="818.3">电机</text><text x="1260" y="826.5">电机座</text><text x="1252" y="834.6" fill="#f0f0f0">三角带-1600</text><text x="1260" y="842.8">法兰盘</text><text x="1260" y="851">弹簧垫片</text><text x="1260" y="859.1">螺栓M12</text><text x="1260" y="867.3">带轮</text><text x="1260" y="875.4">挂架管</text><text x="1260" y="883.6">机座</text><text x="1260" y="891.8">螺栓M16</text><text x="1260" y="899.9">底座</text>
<text x="1310" y="655.1">千布轮</text><text x="1310" y="663.3">组合件</text><text x="1310" y="695.9">橡胶板</text><text x="1310" y="761.2">橡胶板</text><text x="1310" y="777.5">橡胶板</text><text x="1310" y="818.3">组合件</text><text x="1310" y="834.6">橡胶布</text>
<text x="1179" y="910">件号</text><text x="1260" y="910">名　称</text><text x="1289" y="907" font-size="4.5">数</text><text x="1289" y="912" font-size="4.5">量</text><text x="1310" y="910">材 料</text><text x="1332" y="906" font-size="4.5">单重</text><text x="1364" y="910">备 注</text>
</g>
<g class="c" font-size="5.5">
<text x="1172" y="933.5">制图</text><text x="1172" y="939.5">设计</text><text x="1172" y="945.5">校核</text><text x="1172" y="951.5">审核</text>
<text x="1310" y="932.5" font-size="4.5">设计项目</text><text x="1310" y="937.5" font-size="4.5">设计阶段</text>
<text x="1241" y="970">比例</text>
</g>
<g class="t">
<text x="1273" y="944" text-anchor="middle" font-size="9">机械翻倒卸料</text>
<text x="1273" y="957" text-anchor="middle" font-size="9">离心机装配图</text>
<text x="1343" y="957" text-anchor="middle" font-size="8">FD-500-D1</text>
<text x="1284" y="970" text-anchor="middle" font-size="7">1:4</text>
<text x="1318" y="970" font-size="6.5">第1张</text>
<text x="1352" y="970" font-size="6.5">共3张</text>
</g>
</svg>
</body></html>
